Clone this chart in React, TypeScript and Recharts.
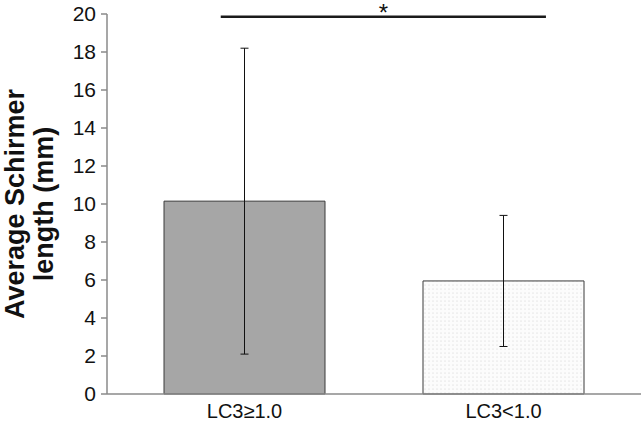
import { Bar, BarChart, Cell, ErrorBar, Label, ReferenceLine, XAxis, YAxis } from 'recharts'

const categories = ['LC3≥1.0', 'LC3<1.0']
const means = [10.15, 5.95]
const errors = [8.05, 3.45]
const yTicks = [0, 2, 4, 6, 8, 10, 12, 14, 16, 18, 20]

// significance bracket, as a fraction of the plot width (hidden numeric x axis 0..1)
const sigStart = 0.213
const sigEnd = 0.822
const sigLevel = 19.85
const sigMark = '*'

const fills = ['#a6a6a6', 'url(#dots)']

const data = categories.map((name, i) => ({ name, value: means[i], err: errors[i] }))

const font = '"Liberation Sans", Arial, sans-serif'
const axisColor = '#8a8a8a'

const YTitle = ({ viewBox }: any) => {
  const cy = viewBox.y + viewBox.height / 2
  return (
    <g fontFamily={font} fontWeight={700} fontSize={27} fill="#111">
      <text x={15} y={cy} transform={`rotate(-90 15 ${cy})`} textAnchor="middle" dominantBaseline="central">
        Average Schirmer
      </text>
      <text x={44} y={cy} transform={`rotate(-90 44 ${cy})`} textAnchor="middle" dominantBaseline="central">
        length (mm)
      </text>
    </g>
  )
}

export default function App() {
  return (
    <div style={{ position: 'absolute', left: 0, top: 0, background: '#fff' }}>
      <BarChart width={643} height={423} data={data} margin={{ top: 14, right: 2, bottom: 0, left: 0 }} barSize={161}>
        <defs>
          <pattern id="dots" width="4" height="4" patternUnits="userSpaceOnUse">
            <rect width="4" height="4" fill="#fcfcfc" />
            <circle cx="1" cy="1" r="0.55" fill="#cccccc" />
          </pattern>
        </defs>
        <XAxis
          dataKey="name"
          height={29}
          padding={{ left: 8, right: 8 }}
          stroke={axisColor}
          strokeWidth={1.5}
          tickLine={false}
          tick={{ fill: '#111', fontSize: 20, fontFamily: font }}
          tickMargin={4}
        />
        <XAxis xAxisId="num" type="number" domain={[0, 1]} allowDataOverflow hide />
        <YAxis
          width={107}
          domain={[0, 20]}
          ticks={yTicks}
          interval={0}
          stroke={axisColor}
          strokeWidth={1.5}
          tickSize={6}
          tickMargin={5}
          tick={{ fill: '#111', fontSize: 21, fontFamily: font }}
        >
          <Label content={<YTitle />} />
        </YAxis>
        <Bar dataKey="value" stroke="#3a3a3a" strokeWidth={1} isAnimationActive={false}>
          {data.map((d, i) => (
            <Cell key={d.name} fill={fills[i]} />
          ))}
          <ErrorBar dataKey="err" width={4} stroke="#111" strokeWidth={1} />
        </Bar>
        <ReferenceLine
          xAxisId="num"
          segment={[
            { x: sigStart, y: sigLevel },
            { x: sigEnd, y: sigLevel },
          ]}
          stroke="#1a1a1a"
          strokeWidth={2.5}
          ifOverflow="visible"
        >
          <Label value={sigMark} position="top" offset={-4} fontSize={24} fill="#111" fontFamily={font} />
        </ReferenceLine>
      </BarChart>
    </div>
  )
}
